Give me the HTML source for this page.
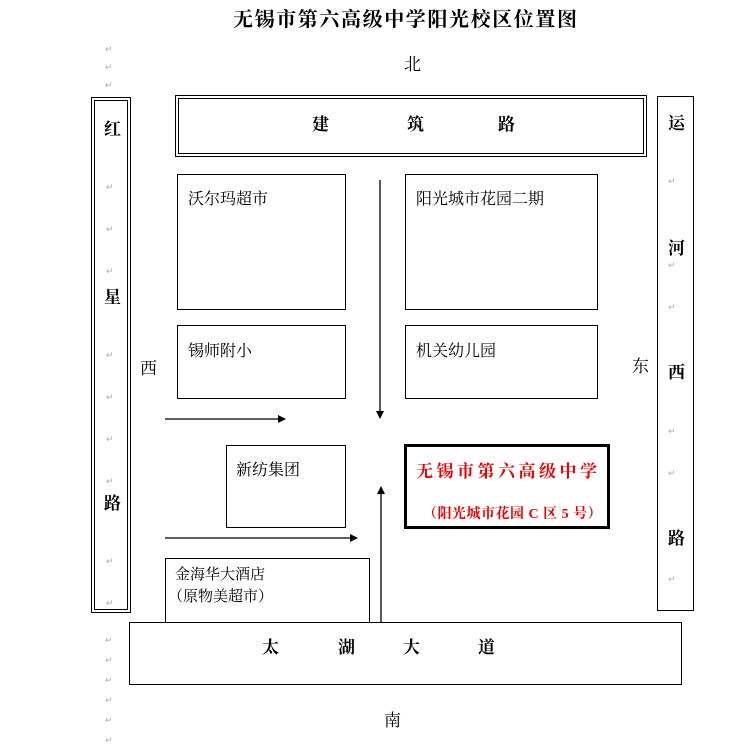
<!DOCTYPE html>
<html><head><meta charset="utf-8"><style>
body{margin:0;width:731px;height:744px;background:#fff;position:relative;overflow:hidden;font-family:"Liberation Serif","Noto Serif CJK SC","Noto Sans CJK SC",serif;color:#000}
.a{position:absolute}
.b{position:absolute;border:1px solid #000;box-sizing:border-box}
.d{position:absolute;border:4px double #000;box-sizing:border-box}
.t{position:absolute;font-size:16px;white-space:nowrap;line-height:1}
.bd{font-weight:bold}
.r{position:absolute;color:#aaa;font-size:9px;line-height:1}
</style></head><body>
<div class="t bd" style="left:233px;top:10px;font-size:20px;letter-spacing:1.6px">无锡市第六高级中学阳光校区位置图</div>
<div class="t" style="left:404px;top:56px;font-size:17px">北</div>
<div class="t" style="left:384px;top:712px;font-size:17px">南</div>
<div class="t" style="left:140px;top:360px;font-size:17px">西</div>
<div class="t" style="left:632px;top:358px;font-size:17px">东</div>

<div class="d" style="left:91px;top:97px;width:40px;height:516px"></div>
<div class="t bd" style="left:104px;top:121px;font-size:17px">红</div>
<div class="t bd" style="left:104px;top:289px;font-size:17px">星</div>
<div class="t bd" style="left:104px;top:495px;font-size:17px">路</div>

<div class="d" style="left:175px;top:95px;width:472px;height:62px"></div>
<div class="t bd" style="left:312px;top:116px;font-size:17px">建</div>
<div class="t bd" style="left:407px;top:116px;font-size:17px">筑</div>
<div class="t bd" style="left:498px;top:116px;font-size:17px">路</div>

<div class="b" style="left:657px;top:96px;width:37px;height:515px"></div>
<div class="t bd" style="left:668px;top:115px;font-size:17px">运</div>
<div class="t bd" style="left:668px;top:240px;font-size:17px">河</div>
<div class="t bd" style="left:668px;top:364px;font-size:17px">西</div>
<div class="t bd" style="left:668px;top:530px;font-size:17px">路</div>

<div class="b" style="left:129px;top:622px;width:553px;height:63px"></div>
<div class="t bd" style="left:262px;top:639px;font-size:17px">太</div>
<div class="t bd" style="left:338px;top:639px;font-size:17px">湖</div>
<div class="t bd" style="left:403px;top:639px;font-size:17px">大</div>
<div class="t bd" style="left:478px;top:639px;font-size:17px">道</div>

<div class="b" style="left:177px;top:174px;width:169px;height:136px"></div>
<div class="t" style="left:188px;top:192px">沃尔玛超市</div>
<div class="b" style="left:405px;top:174px;width:193px;height:136px"></div>
<div class="t" style="left:416px;top:192px">阳光城市花园二期</div>
<div class="b" style="left:177px;top:325px;width:169px;height:74px"></div>
<div class="t" style="left:188px;top:344px">锡师附小</div>
<div class="b" style="left:405px;top:325px;width:193px;height:74px"></div>
<div class="t" style="left:416px;top:344px">机关幼儿园</div>
<div class="b" style="left:226px;top:445px;width:120px;height:83px"></div>
<div class="t" style="left:236px;top:463px">新纺集团</div>
<div class="b" style="left:404px;top:444px;width:206px;height:85px;border:3px solid #000"></div>
<div class="t bd" style="left:416px;top:463px;font-size:17px;color:#e00;letter-spacing:3.5px">无锡市第六高级中学</div>
<div class="t bd" style="left:423px;top:508px;font-size:14px;color:#e00;letter-spacing:0.5px">（阳光城市花园 C 区 5 号）</div>
<div class="b" style="left:165px;top:558px;width:205px;height:65px"></div>
<div class="t" style="left:175px;top:568px;font-size:15px">金海华大酒店</div>
<div class="t" style="left:168px;top:590px;font-size:15px">（原物美超市）</div>

<svg class="a" style="left:0;top:0" width="731" height="744">
<defs><marker id="m" markerWidth="8" markerHeight="8" refX="7" refY="4" orient="auto" markerUnits="userSpaceOnUse"><path d="M0,0 L8,4 L0,8 z" fill="#000"/></marker></defs>
<line x1="380" y1="180" x2="380" y2="418" stroke="#000" stroke-width="1.3" marker-end="url(#m)"/>
<line x1="165" y1="419" x2="285" y2="419" stroke="#000" stroke-width="1.3" marker-end="url(#m)"/>
<line x1="165" y1="538" x2="357" y2="538" stroke="#000" stroke-width="1.3" marker-end="url(#m)"/>
<line x1="381" y1="622" x2="381" y2="487" stroke="#000" stroke-width="1.3" marker-end="url(#m)"/>
</svg>

<div class="r" style="left:105px;top:45px">↵<br><br>↵<br><br>↵</div>
<div class="r" style="left:105px;top:630px;line-height:20px">↵<br>↵<br>↵<br>↵<br>↵<br>↵</div>
<div class="r" style="left:106px;top:166px;line-height:42px">↵<br>↵<br>↵</div>
<div class="r" style="left:106px;top:334px;line-height:42px">↵<br>↵<br>↵<br>↵</div>
<div class="r" style="left:106px;top:540px;line-height:42px">↵<br>↵</div>
<div class="r" style="left:668px;top:160px;line-height:42px">↵<br><br>↵<br>↵</div>
<div class="r" style="left:668px;top:410px;line-height:42px">↵<br>↵</div>
<div class="r" style="left:668px;top:575px">↵</div>
</body></html>
